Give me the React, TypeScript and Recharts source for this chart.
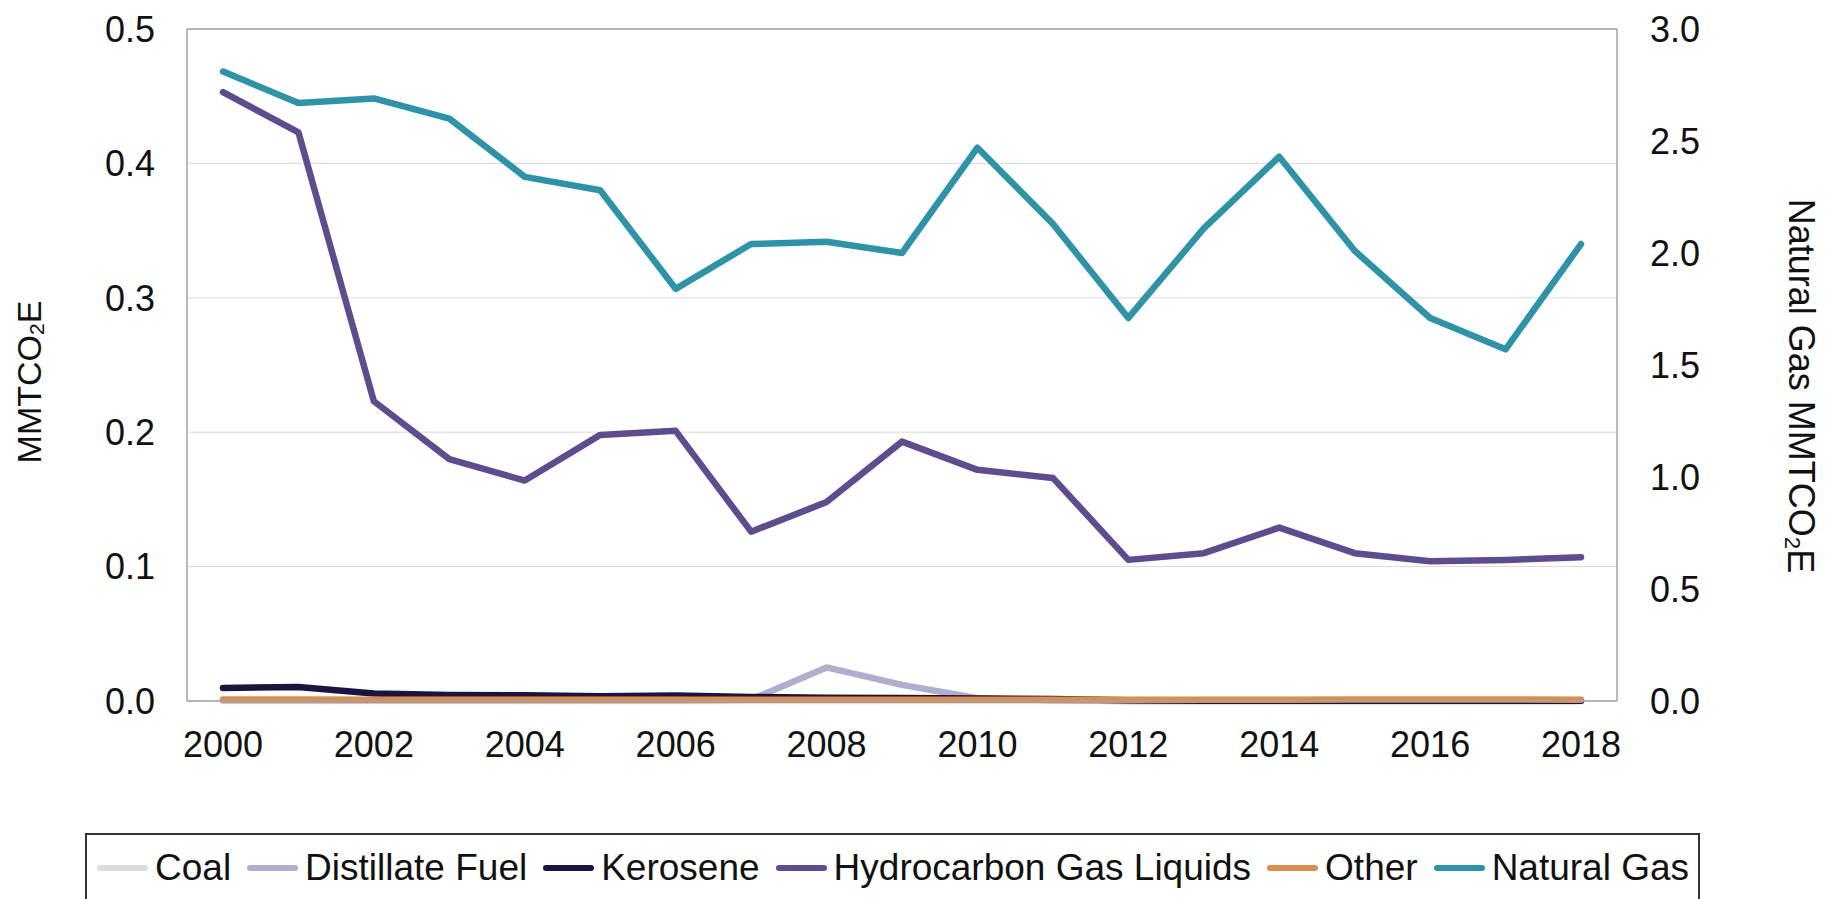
import { LineChart, Line, XAxis, YAxis, CartesianGrid, ReferenceLine, Label } from 'recharts';

const YEARS = [2000, 2001, 2002, 2003, 2004, 2005, 2006, 2007, 2008, 2009, 2010, 2011, 2012, 2013, 2014, 2015, 2016, 2017, 2018];

// left axis (MMTCO2E)
const COAL        = [0, 0, 0, 0, 0, 0, 0, 0, 0, 0, 0, 0, 0, 0, 0, 0, 0, 0, 0];
const DISTILLATE  = [0.0005, 0.0005, 0.0005, 0.0005, 0.0005, 0.0005, 0.0005, 0.001, 0.025, 0.012, 0.002, 0.0005, 0, 0, 0, 0, 0, 0, 0];
const KEROSENE    = [0.0097, 0.0105, 0.0055, 0.0045, 0.0043, 0.0035, 0.004, 0.003, 0.0025, 0.0022, 0.0018, 0.0015, 0.0005, 0.0002, 0.0002, 0.0002, 0.0002, 0.0002, 0.0002];
const HGL         = [0.453, 0.423, 0.223, 0.180, 0.164, 0.198, 0.201, 0.126, 0.148, 0.193, 0.172, 0.166, 0.105, 0.110, 0.129, 0.110, 0.104, 0.105, 0.107];
const OTHER       = [0.0012, 0.0012, 0.001, 0.001, 0.001, 0.001, 0.001, 0.001, 0.001, 0.001, 0.001, 0.001, 0.001, 0.001, 0.001, 0.0012, 0.0012, 0.0012, 0.001];
// right axis (Natural Gas MMTCO2E)
const NATURAL_GAS = [2.81, 2.67, 2.69, 2.60, 2.34, 2.28, 1.84, 2.04, 2.05, 2.00, 2.47, 2.13, 1.71, 2.11, 2.43, 2.01, 1.71, 1.57, 2.04];

const LEFT_TICKS  = [0, 0.1, 0.2, 0.3, 0.4, 0.5];
const RIGHT_TICKS = [0, 0.5, 1, 1.5, 2, 2.5, 3];

const SERIES = [
  { key: 'coal',  name: 'Coal',                    color: '#dcdce5', axis: 'left'  },
  { key: 'dist',  name: 'Distillate Fuel',         color: '#b2acce', axis: 'left'  },
  { key: 'ker',   name: 'Kerosene',                color: '#1c1440', axis: 'left'  },
  { key: 'hgl',   name: 'Hydrocarbon Gas Liquids', color: '#5f4c8e', axis: 'left'  },
  { key: 'other', name: 'Other',                   color: '#dc8c4e', axis: 'left'  },
  { key: 'ng',    name: 'Natural Gas',             color: '#2f93a7', axis: 'right' },
];

// draw order: small near-zero series first so orange sits over kerosene tail
const DRAW_ORDER = ['coal', 'dist', 'ker', 'other', 'hgl', 'ng'];

const data = YEARS.map((y, i) => ({
  year:  y,
  coal:  COAL[i],
  dist:  DISTILLATE[i],
  ker:   KEROSENE[i],
  hgl:   HGL[i],
  other: OTHER[i],
  ng:    NATURAL_GAS[i],
}));

const FONT = '"Liberation Sans", Arial, sans-serif';
const TICK = { fontSize: 36, fill: '#111', fontFamily: FONT };
const FRAME = '#a3a3a3';

function AxisTitle(props: any) {
  const { viewBox, side } = props;
  const vb = viewBox || { x: 0, y: 0, width: 0, height: 0 };
  const cx = side === 'left' ? vb.x + 29 : vb.x + 184;
  const cy = vb.y + vb.height / 2 + (side === 'left' ? 17 : 21);
  const rot = side === 'left' ? -90 : 90;
  const fs = side === 'left' ? 34 : 36;
  return (
    <text
      x={cx} y={cy}
      transform={`rotate(${rot} ${cx} ${cy})`}
      textAnchor="middle"
      dominantBaseline="central"
      fontSize={fs}
      fontFamily={FONT}
      fill="#111"
    >
      {side === 'right' ? 'Natural Gas MMTCO' : 'MMTCO'}
      <tspan fontSize={fs * 0.62} dy={fs * 0.22}>2</tspan>
      <tspan dy={-fs * 0.22}>E</tspan>
    </text>
  );
}

function LegendBox() {
  return (
    <div style={{
      position: 'absolute', left: 85, top: 833, width: 1615, height: 80,
      boxSizing: 'border-box', border: '2px solid #333', background: '#fff',
      display: 'flex', alignItems: 'flex-start', paddingLeft: 10, paddingTop: 14,
      fontFamily: FONT, fontSize: 37, lineHeight: '37px', color: '#111',
    }}>
      {SERIES.map(s => (
        <div key={s.key} style={{ display: 'flex', alignItems: 'center', marginRight: 16 }}>
          <span style={{
            display: 'inline-block', width: 51, height: 6, borderRadius: 3,
            background: s.color, marginRight: 7,
          }} />
          <span style={{ whiteSpace: 'nowrap' }}>{s.name}</span>
        </div>
      ))}
    </div>
  );
}

export default function App() {
  return (
    <div style={{
      position: 'absolute', left: 0, top: 0, width: 1834, height: 899,
      overflow: 'hidden', background: '#fff',
    }}>
      <LineChart
        width={1834} height={790} data={data}
        margin={{ top: 29, right: 0, bottom: 0, left: 0 }}
      >
        <CartesianGrid horizontal vertical={false} stroke="#d9d9d9" yAxisId="left" />
        <XAxis
          dataKey="year"
          height={89}
          padding={{ left: 36, right: 36 }}
          interval={1}
          tickLine={false}
          tickSize={0}
          tickMargin={30}
          axisLine={{ stroke: FRAME, strokeWidth: 1.5 }}
          tick={TICK}
        />
        <YAxis
          yAxisId="left"
          orientation="left"
          width={187}
          domain={[0, 0.5]}
          ticks={LEFT_TICKS}
          tickFormatter={v => v.toFixed(1)}
          tickLine={false}
          tickSize={0}
          tickMargin={32}
          axisLine={{ stroke: FRAME, strokeWidth: 1.5 }}
          tick={TICK}
        >
          <Label content={(p: any) => <AxisTitle {...p} side="left" />} />
        </YAxis>
        <YAxis
          yAxisId="right"
          orientation="right"
          width={217}
          domain={[0, 3]}
          ticks={RIGHT_TICKS}
          tickFormatter={v => v.toFixed(1)}
          tickLine={false}
          tickSize={0}
          tickMargin={33}
          axisLine={{ stroke: FRAME, strokeWidth: 1.5 }}
          tick={TICK}
        >
          <Label content={(p: any) => <AxisTitle {...p} side="right" />} />
        </YAxis>
        <ReferenceLine yAxisId="left" y={0.5} stroke={FRAME} strokeWidth={1.5} />

        {DRAW_ORDER.map(k => {
          const s = SERIES.find(x => x.key === k)!;
          return (
            <Line
              key={s.key}
              yAxisId={s.axis}
              dataKey={s.key}
              name={s.name}
              type="linear"
              stroke={s.color}
              strokeWidth={6.5}
              strokeLinejoin="round"
              strokeLinecap="round"
              dot={false}
              activeDot={false}
              isAnimationActive={false}
            />
          );
        })}
      </LineChart>
      <LegendBox />
    </div>
  );
}
